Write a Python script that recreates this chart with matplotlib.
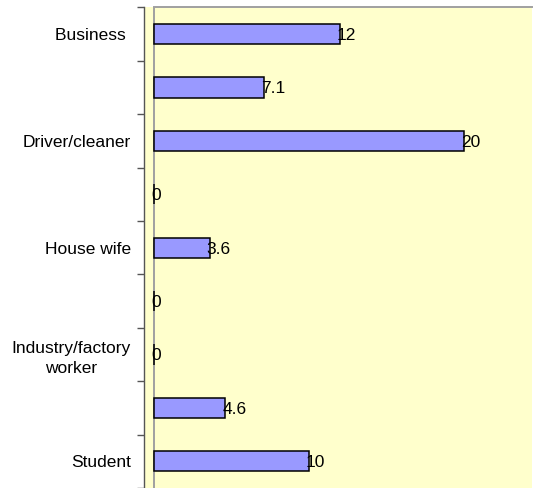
import matplotlib.pyplot as plt
from matplotlib.ticker import FixedLocator

plt.rcParams['font.family'] = ['Liberation Sans', 'DejaVu Sans']

# categories top to bottom, only every other one carries a label
labels = ["Business ", "", "Driver/cleaner", "", "House wife", "",
          "Industry/factory\nworker", "", "Student"]
values = [12, 7.1, 20, 0, 3.6, 0, 0, 4.6, 10]
value_text = ["12", "7.1", "20", "0", "3.6", "0", "0", "4.6", "10"]

W, H = 535, 488
fig = plt.figure(figsize=(W / 100, H / 100), dpi=100)
fig.patch.set_facecolor('white')

left_px, right_px, top_px = 143.5, 532, 7.3
ax = fig.add_axes([left_px / W, 0, (right_px - left_px) / W, (H - top_px) / H])
ax.set_facecolor('#FFFFCC')

# zero of the value axis sits ~10 px right of the category axis
px_per_unit = 15.5
xmin = -(154 - left_px) / px_per_unit
xmax = (right_px - 154) / px_per_unit
ax.set_xlim(xmin, xmax)
ax.set_ylim(len(values) - 0.5, -0.5)

pos = list(range(len(values)))
ax.barh(pos, values, height=0.38, color='#9999FF', edgecolor='black',
        linewidth=1.1, zorder=3)

# plot area border (zero line and top edge)
ax.axvline(0, color='#A0A0A0', linewidth=1.4, zorder=2)
ax.plot([0, xmax], [-0.5, -0.5], color='#A0A0A0', linewidth=1.4,
        clip_on=False, zorder=2)

for p, v, t in zip(pos, values, value_text):
    ax.annotate(t, (v, p), xytext=(-2.2, -1), textcoords='offset points',
                ha='left', va='center', fontsize=12.5, color='black', zorder=4)

for s in ['top', 'right', 'bottom']:
    ax.spines[s].set_visible(False)
ax.spines['left'].set_color('#555555')
ax.spines['left'].set_linewidth(1.0)

ax.set_xticks([])
ax.yaxis.set_major_locator(FixedLocator([i - 0.5 for i in range(len(values) + 1)]))
ax.yaxis.set_major_formatter(plt.NullFormatter())
ax.tick_params(axis='y', which='major', length=5, width=1, color='#555555',
               direction='out')
ax.yaxis.set_minor_locator(FixedLocator(pos))
ax.set_yticklabels(labels, minor=True, fontsize=12.5, ha='right',
                   multialignment='center', linespacing=1.45)
ax.tick_params(axis='y', which='minor', length=0, pad=9)

fig.savefig('out.png', dpi=100)
